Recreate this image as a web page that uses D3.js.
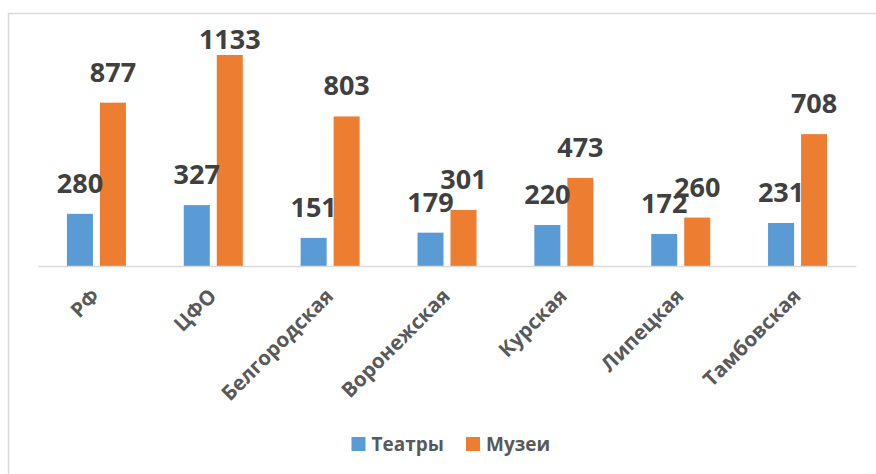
<!DOCTYPE html>
<html>
<head>
<meta charset="utf-8">
<script src="https://cdn.jsdelivr.net/npm/d3@7"></script>
<style>
  body { margin: 0; background: #fff; }
  svg { display: block; font-family: 'Open Sans', sans-serif; }
</style>
</head>
<body>
<div id="chart"></div>
<script>
// categories and series
const categories = ['РФ', 'ЦФО', 'Белгородская', 'Воронежская', 'Курская', 'Липецкая', 'Тамбовская'];
const seriesNames = ['Театры', 'Музеи'];
const theatres = [280, 327, 151, 179, 220, 172, 231];
const museums = [877, 1133, 803, 301, 473, 260, 708];
const seriesColors = ['#5b9bd5', '#ed7d31'];

const width = 876, height = 474;
const plot = { left: 38, right: 856, top: 42.5, bottom: 266 };
const labelTop = 30; // data labels are kept below this line

const svg = d3.select('#chart')
  .append('svg')
  .attr('width', width)
  .attr('height', height);

// chart frame (only top and left edges are inside the picture)
svg.append('path')
  .attr('d', 'M8.5,' + height + 'V13.5H' + width)
  .attr('fill', 'none')
  .attr('stroke', '#d9d9d9')
  .attr('stroke-width', 1.5);

const x0 = d3.scaleBand()
  .domain(categories)
  .range([plot.left, plot.right])
  .paddingInner(0.495)
  .paddingOuter(0.2475);

const x1 = d3.scaleBand()
  .domain(seriesNames)
  .range([0, x0.bandwidth()])
  .paddingInner(0.212);

const y = d3.scaleLinear()
  .domain([0, 1200])
  .range([plot.bottom, plot.top]);

const rows = categories.map((c, i) => ({
  cat: c,
  values: [
    { key: seriesNames[0], value: theatres[i], color: seriesColors[0] },
    { key: seriesNames[1], value: museums[i], color: seriesColors[1] },
  ],
}));

const groups = svg.append('g')
  .selectAll('g')
  .data(rows)
  .enter()
  .append('g')
  .attr('transform', d => 'translate(' + x0(d.cat) + ',0)');

groups.selectAll('rect')
  .data(d => d.values)
  .enter()
  .append('rect')
  .attr('x', d => x1(d.key))
  .attr('y', d => y(d.value))
  .attr('width', x1.bandwidth())
  .attr('height', d => y(0) - y(d.value))
  .attr('fill', d => d.color);

// value labels sit 21px over the bar, but never above labelTop
groups.selectAll('text.val')
  .data(d => d.values)
  .enter()
  .append('text')
  .attr('class', 'val')
  .attr('x', d => x1(d.key) + x1.bandwidth() / 2)
  .attr('y', d => Math.max(y(d.value) - 21, labelTop + 18.5))
  .attr('text-anchor', 'middle')
  .attr('font-size', 27)
  .attr('font-weight', 700)
  .attr('fill', '#404040')
  .text(d => d.value);

// category axis: baseline only, labels turned 45 degrees
const xAxis = svg.append('g')
  .attr('transform', 'translate(0,' + plot.bottom + ')')
  .call(d3.axisBottom(x0).tickSize(0).tickPadding(0));

xAxis.select('.domain')
  .attr('stroke', '#d9d9d9')
  .attr('stroke-width', 1.5);

xAxis.selectAll('.tick text')
  .attr('font-family', "'Open Sans', sans-serif")
  .attr('font-size', 20.5)
  .attr('font-weight', 700)
  .attr('fill', '#595959')
  .attr('text-anchor', 'end')
  .attr('y', 0)
  .attr('dy', '0.72em')
  .attr('transform', 'translate(-6,21) rotate(-45)');

// legend
const legendItems = [
  { name: seriesNames[0], color: seriesColors[0], x: 351.5 },
  { name: seriesNames[1], color: seriesColors[1], x: 466 },
];
const legend = svg.append('g')
  .selectAll('g')
  .data(legendItems)
  .enter()
  .append('g')
  .attr('transform', d => 'translate(' + d.x + ',437)');

legend.append('rect')
  .attr('width', 14)
  .attr('height', 14)
  .attr('fill', d => d.color);

legend.append('text')
  .attr('x', 20)
  .attr('y', 14)
  .attr('font-size', 19)
  .attr('font-weight', 700)
  .attr('fill', '#595959')
  .text(d => d.name);
</script>
</body>
</html>
